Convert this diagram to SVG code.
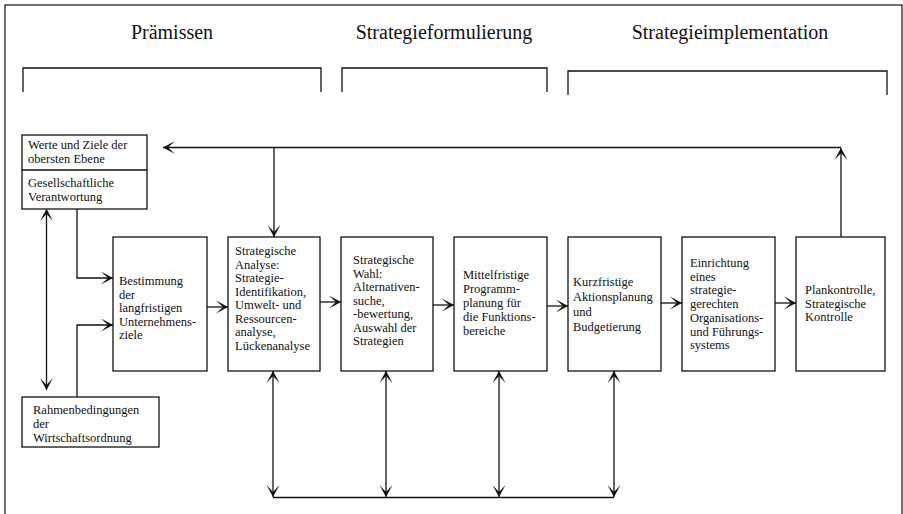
<svg xmlns="http://www.w3.org/2000/svg" width="903" height="514" viewBox="0 0 903 514">
<defs>
<style>
.box{fill:#fff;stroke:#111;stroke-width:1.3}
.ln{fill:none;stroke:#111;stroke-width:1.3}
.t{font-family:"Liberation Serif","Times New Roman",serif;font-size:12.5px;fill:#111}
.h{font-family:"Liberation Serif","Times New Roman",serif;font-size:20px;fill:#111;text-anchor:middle}
</style>
<marker id="ah" viewBox="-13 -8 14 16" refX="0" refY="0" markerWidth="14" markerHeight="16" markerUnits="userSpaceOnUse" orient="auto-start-reverse">
<path d="M0,0 L-12,-6.5 L-5,0 L-12,6.5 Z" fill="#111"/>
</marker>
</defs>
<rect width="903" height="514" fill="#fff"/>
<rect x="5" y="5" width="897" height="520" fill="none" stroke="#111" stroke-width="1.2"/>

<g id="headers">
<text class="h" x="172" y="39">Prämissen</text>
<text class="h" x="444" y="39">Strategieformulierung</text>
<text class="h" x="730" y="39">Strategieimplementation</text>
<path class="ln" d="M23,92 V68 H321 V92"/>
<path class="ln" d="M342,92 V68 H547 V92"/>
<path class="ln" d="M568,95 V71 H887 V95"/>
</g>

<g id="connectors">
<path class="ln" d="M841,237 V148" marker-end="url(#ah)"/>
<path class="ln" d="M841,147.5 H163" marker-end="url(#ah)"/>
<path class="ln" d="M274,147.5 V237" marker-end="url(#ah)"/>
<path class="ln" d="M46.5,209 V390" marker-start="url(#ah)" marker-end="url(#ah)"/>
<path class="ln" d="M77,209 V278 H113" marker-end="url(#ah)"/>
<path class="ln" d="M77,397 V325 H113" marker-end="url(#ah)"/>
<path class="ln" d="M207,307 H228" marker-end="url(#ah)"/>
<path class="ln" d="M320,302 H341" marker-end="url(#ah)"/>
<path class="ln" d="M433,305 H454" marker-end="url(#ah)"/>
<path class="ln" d="M547,306 H568" marker-end="url(#ah)"/>
<path class="ln" d="M661,303 H682" marker-end="url(#ah)"/>
<path class="ln" d="M775,303 H796" marker-end="url(#ah)"/>
<path class="ln" d="M273,371 V497" marker-start="url(#ah)" marker-end="url(#ah)"/>
<path class="ln" d="M386,371 V497" marker-start="url(#ah)" marker-end="url(#ah)"/>
<path class="ln" d="M499,371 V497" marker-start="url(#ah)" marker-end="url(#ah)"/>
<path class="ln" d="M614,371 V497" marker-start="url(#ah)" marker-end="url(#ah)"/>
<path class="ln" d="M273,497.5 H614"/>
</g>

<g id="werte">
<rect class="box" x="22" y="135" width="125" height="74"/>
<line class="ln" x1="22" y1="170" x2="147" y2="170"/>
<text class="t"><tspan x="28" y="149">Werte und Ziele der</tspan><tspan x="28" y="162.5">obersten Ebene</tspan><tspan x="28" y="187">Gesellschaftliche</tspan><tspan x="28" y="201">Verantwortung</tspan></text>
</g>

<g id="rahmen">
<rect class="box" x="22" y="397" width="137" height="50"/>
<text class="t"><tspan x="33" y="414">Rahmenbedingungen</tspan><tspan x="33" y="428">der</tspan><tspan x="33" y="442">Wirtschaftsordnung</tspan></text>
</g>

<g id="bestimmung">
<rect class="box" x="113" y="237" width="94" height="134"/>
<text class="t"><tspan x="119" y="285">Bestimmung</tspan><tspan x="119" y="298.5">der</tspan><tspan x="119" y="312">langfristigen</tspan><tspan x="119" y="325.5">Unternehmens-</tspan><tspan x="119" y="339">ziele</tspan></text>
</g>

<g id="analyse">
<rect class="box" x="228" y="237" width="92" height="134"/>
<text class="t"><tspan x="235" y="255">Strategische</tspan><tspan x="235" y="268.5">Analyse:</tspan><tspan x="235" y="282">Strategie-</tspan><tspan x="235" y="295.5">Identifikation,</tspan><tspan x="235" y="309">Umwelt- und</tspan><tspan x="235" y="322.5">Ressourcen-</tspan><tspan x="235" y="336">analyse,</tspan><tspan x="235" y="349.5">Lückenanalyse</tspan></text>
</g>

<g id="wahl">
<rect class="box" x="341" y="237" width="92" height="134"/>
<text class="t"><tspan x="353" y="264">Strategische</tspan><tspan x="353" y="277.5">Wahl:</tspan><tspan x="353" y="291">Alternativen-</tspan><tspan x="353" y="304.5">suche,</tspan><tspan x="353" y="318">-bewertung,</tspan><tspan x="353" y="331.5">Auswahl der</tspan><tspan x="353" y="345">Strategien</tspan></text>
</g>

<g id="mittelfristig">
<rect class="box" x="454" y="237" width="93" height="134"/>
<text class="t"><tspan x="463" y="279">Mittelfristige</tspan><tspan x="463" y="293">Programm-</tspan><tspan x="463" y="307">planung für</tspan><tspan x="463" y="321">die Funktions-</tspan><tspan x="463" y="335">bereiche</tspan></text>
</g>

<g id="kurzfristig">
<rect class="box" x="568" y="237" width="93" height="134"/>
<text class="t"><tspan x="573" y="286">Kurzfristige</tspan><tspan x="573" y="301">Aktionsplanung</tspan><tspan x="573" y="316">und</tspan><tspan x="573" y="331">Budgetierung</tspan></text>
</g>

<g id="einrichtung">
<rect class="box" x="682" y="237" width="93" height="134"/>
<text class="t"><tspan x="690" y="267">Einrichtung</tspan><tspan x="690" y="280.7">eines</tspan><tspan x="690" y="294.4">strategie-</tspan><tspan x="690" y="308.1">gerechten</tspan><tspan x="690" y="321.8">Organisations-</tspan><tspan x="690" y="335.5">und Führungs-</tspan><tspan x="690" y="349.2">systems</tspan></text>
</g>

<g id="plankontrolle">
<rect class="box" x="796" y="237" width="89" height="134"/>
<text class="t"><tspan x="805" y="294">Plankontrolle,</tspan><tspan x="805" y="307.5">Strategische</tspan><tspan x="805" y="321">Kontrolle</tspan></text>
</g>
</svg>
